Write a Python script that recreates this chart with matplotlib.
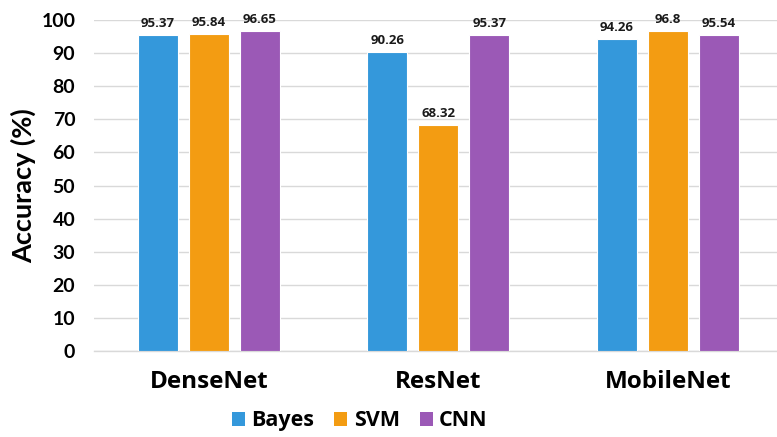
import numpy as np
import matplotlib
matplotlib.use("Agg")
import matplotlib.pyplot as plt
from matplotlib.patches import Patch

models = ["DenseNet", "ResNet", "MobileNet"]
methods = ["Bayes", "SVM", "CNN"]
bayes = [95.37, 90.26, 94.26]
svm = [95.84, 68.32, 96.8]
cnn = [96.65, 95.37, 95.54]
yticks = [0, 10, 20, 30, 40, 50, 60, 70, 80, 90, 100]

colors = ["#3498db", "#f39c12", "#9b59b6"]
series = [bayes, svm, cnn]

fig = plt.figure(figsize=(7.77, 4.37), dpi=100)
ax = fig.add_axes([0.121, 0.197, 0.879, 0.757])

x = np.arange(len(models))
width = 0.174
step = 0.222
for i, (vals, col) in enumerate(zip(series, colors)):
    pos = x + (i - 1) * step
    bars = ax.bar(pos, vals, width, color=col, edgecolor="white", linewidth=0.8, zorder=3)
    for b, v in zip(bars, vals):
        ax.text(b.get_x() + b.get_width() / 2, v + 1.5, f"{v:g}", ha="center", va="bottom",
                fontsize=9.5, fontweight="bold", family=["Open Sans", "DejaVu Sans"],
                color="#1a1a1a")

ax.set_xlim(-0.5, 2.475)
ax.set_ylim(0, 100)
ax.set_yticks(yticks)
ax.set_yticklabels([str(t) for t in yticks], family="Lato", fontweight="bold", fontsize=14)
ax.set_xticks(x)
ax.set_xticklabels(models, family="Open Sans", fontweight="bold", fontsize=17.5)
ax.tick_params(axis="y", length=0, pad=13.5)
ax.tick_params(axis="x", length=0, pad=14)
ax.grid(axis="y", color="#d9d9d9", linewidth=1, zorder=0)
for s in ["top", "right", "left"]:
    ax.spines[s].set_visible(False)
ax.spines["bottom"].set_color("#d9d9d9")
ax.spines["bottom"].set_linewidth(1)
ax.set_ylabel("Accuracy (%)", family="Lato", fontweight="bold", fontsize=19.5, labelpad=4)

handles = [Patch(facecolor=c, label=m) for c, m in zip(colors, methods)]
fig.legend(handles=handles, loc="center", bbox_to_anchor=(0.463, 0.037), ncol=3, frameon=False,
           prop={"family": "Open Sans", "weight": "bold", "size": 15.5},
           handlelength=0.6, handleheight=0.6, handletextpad=0.3, columnspacing=0.93)

fig.savefig("out.png", dpi=100)
